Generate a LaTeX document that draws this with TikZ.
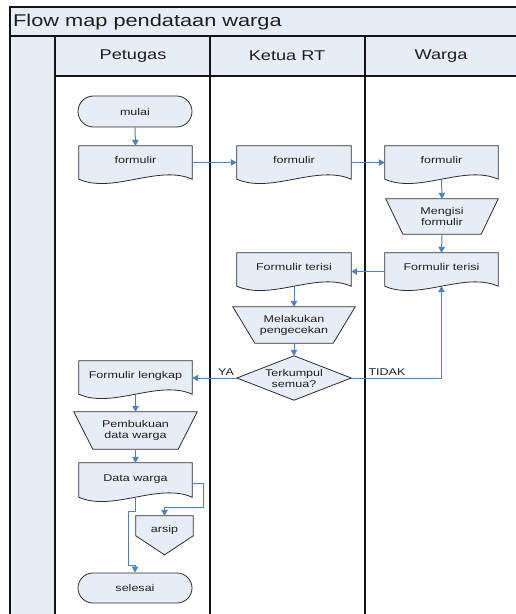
\documentclass[tikz,border=0pt]{standalone}
\usepackage{fontspec}
\usepackage{graphicx}
\setmainfont{Liberation Sans}
\usetikzlibrary{arrows.meta,shapes.misc,calc,backgrounds}

\definecolor{paleblue}{RGB}{231,237,247}
\definecolor{flowblue}{RGB}{79,129,189}
\definecolor{ink}{RGB}{30,30,30}
\definecolor{edge}{RGB}{45,45,45}
\definecolor{laneline}{RGB}{20,20,20}

% text is set slightly wide
\newcommand{\wx}[1]{\scalebox{1.28}[1]{#1}}

% document symbol: straight top and sides, wavy bottom
\newcommand{\docoutline}[1]{%
  \filldraw[shapeline] (#1.north west) -- (#1.north east) -- (#1.south east)
    .. controls ($(#1.south east)!0.3!(#1.south west)+(0,-15)$)
       and ($(#1.south east)!0.7!(#1.south west)+(0,15)$) .. (#1.south west) -- cycle;}
% manual operation: wide top, narrow bottom
\newcommand{\trapoutline}[2]{%
  \filldraw[shapeline] (#1.north west) -- (#1.north east)
    -- ([xshift=-#2bp]#1.south east) -- ([xshift=#2bp]#1.south west) -- cycle;}

\begin{document}
\begin{tikzpicture}[x=1bp,y=-1bp,
  txt/.style={font=\fontsize{9.8bp}{11bp}\selectfont,text=ink,inner sep=0pt},
  doc/.style={txt,minimum width=113bp,minimum height=33bp,text height=8bp,text depth=6bp},
  term/.style={txt,rounded rectangle,draw=edge,fill=paleblue,line width=0.8bp,
    minimum width=114bp,minimum height=31bp},
  manual/.style={txt,align=center,minimum height=36bp},
  choice/.style={txt,align=center,minimum width=114bp,minimum height=44bp},
  header/.style={font=\fontsize{14.2bp}{17bp}\selectfont,text=ink,inner sep=0pt},
  shapeline/.style={draw=edge,fill=paleblue,line width=0.8bp},
  lane/.style={draw=laneline,line width=1.3bp},
  flow/.style={draw=flowblue,line width=1bp,-{Triangle[length=6bp,width=6.5bp]}}
]
\useasboundingbox (0,0) rectangle (516,614);

% title and lane headers
\node[anchor=west,font=\fontsize{17bp}{20bp}\selectfont,text=ink,inner sep=0pt]
  (title) at (13,22) {\wx{Flow map pendataan warga}};
\node[header] (hpetugas) at (133,56) {\wx{Petugas}};
\node[header] (hketua) at (287,56) {\wx{Ketua RT}};
\node[header] (hwarga) at (441,56) {\wx{Warga}};

% Petugas
\node[term] (mulai) at (135,111.5) {\wx{mulai}};
\node[doc] (f1) at (135.5,162.5) {\wx{formulir}};
\node[doc] (lengkap) at (135.5,377.5) {\wx{Formulir lengkap}};
\node[manual,minimum width=123bp,minimum height=37bp] (buku) at (135.5,430.5)
  {\wx{Pembukuan}\\\wx{data warga}};
\node[doc,minimum height=34bp] (data) at (135.5,480) {\wx{Data warga}};
\node[txt,minimum width=57bp,minimum height=28bp] (arsip) at (164.5,530) {\wx{arsip}};
\node[term,minimum height=30bp] (selesai) at (135,588) {\wx{selesai}};

% Ketua RT
\node[doc,minimum width=114bp] (f2) at (294,162.5) {\wx{formulir}};
\node[doc,minimum width=114bp] (t2) at (294,269.5) {\wx{Formulir terisi}};
\node[manual,minimum width=122bp] (cek) at (294,325) {\wx{Melakukan}\\\wx{pengecekan}};
\node[choice] (q) at (294,378) {\wx{Terkumpul}\\\wx{semua?}};

% Warga
\node[doc] (f3) at (441.5,162.5) {\wx{formulir}};
\node[manual,minimum width=112bp,minimum height=35bp] (isi) at (442,216.5)
  {\wx{Mengisi}\\\wx{formulir}};
\node[doc] (t3) at (441.5,269.5) {\wx{Formulir terisi}};

% branch labels
\node[txt] (ya) at (226,372) {\wx{YA}};
\node[txt] (tidak) at (387,372) {\wx{TIDAK}};

% connectors
\draw[flow] (mulai.south) -- (f1.north);
\draw[flow] (f1.east) -- (f2.west);
\draw[flow] (f2.east) -- (f3.west);
\draw[flow] (f3.south) -- (isi.north);
\draw[flow] (isi.south) -- (t3.north);
\draw[flow] ([yshift=-2bp]t3.west) -- ([yshift=-2bp]t2.east);
\draw[flow] (t2.south) -- (cek.north);
\draw[flow] (cek.south) -- (q.north);
\draw[flow] (q.east) -| (t3.south);
\draw[flow] (q.west) -- (q.west -| lengkap.east);
\draw[flow] (lengkap.south) -- (buku.north);
\draw[flow] (buku.south) -- (data.north);
\draw[flow] ([yshift=-3bp]data.east) -- ++(11,0) |- ([yshift=8bp]arsip.north) -- (arsip.north);
\draw[flow] (data.south) -- ++(0,14) -| ([xshift=-7bp,yshift=7bp]selesai.north)
  -- ([yshift=7bp]selesai.north) -- (selesai.north);

% swimlane frame and symbol outlines
\begin{scope}[on background layer]
  \fill[white] (0,0) rectangle (516,614);
  \fill[paleblue] (10,7) rectangle (516,36);
  \fill[paleblue] (55,36) rectangle (516,76);
  \fill[paleblue] (10,36) rectangle (55,614);
  \draw[lane] (516,7) -- (10,7) -- (10,614);
  \draw[lane] (10,36) -- (516,36);
  \draw[lane] (55,76) -- (516,76);
  \draw[lane] (55,36) -- (55,614);
  \draw[lane] (210,36) -- (210,614);
  \draw[lane] (365,36) -- (365,614);

  \docoutline{f1}
  \docoutline{f2}
  \docoutline{f3}
  \docoutline{t2}
  \docoutline{t3}
  \docoutline{lengkap}
  \docoutline{data}
  \trapoutline{isi}{17}
  \trapoutline{cek}{22}
  \trapoutline{buku}{19}
  \filldraw[shapeline] (q.north) -- (q.east) -- (q.south) -- (q.west) -- cycle;
  \filldraw[shapeline] (arsip.north west) -- (arsip.north east)
    -- ([yshift=-20bp]arsip.north east) -- ([yshift=-39bp]arsip.north)
    -- ([yshift=-20bp]arsip.north west) -- cycle;
\end{scope}
\end{tikzpicture}
\end{document}
